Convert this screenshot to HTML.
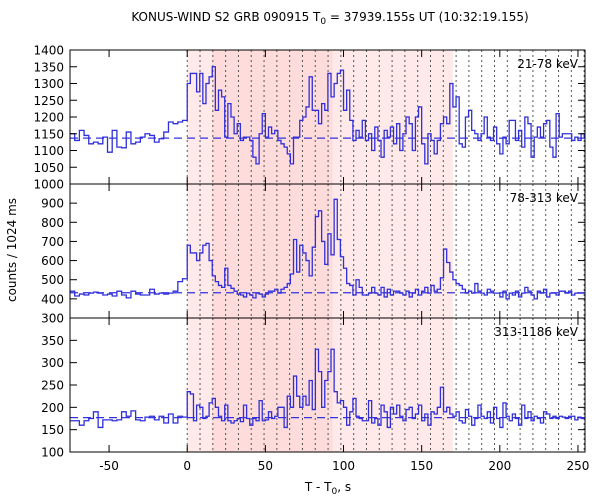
<!DOCTYPE html>
<html><head><meta charset="utf-8">
<style>
html,body{margin:0;padding:0;background:#fff;}
svg{display:block;font-family:"DejaVu Sans","Liberation Sans",sans-serif;}
</style></head>
<body>
<svg id="chart" width="600" height="500" viewBox="0 0 600 500" xmlns="http://www.w3.org/2000/svg">
<text x="330" y="21" font-size="12" text-anchor="middle">KONUS-WIND S2 GRB 090915 T<tspan font-size="9" dy="3">0</tspan><tspan dy="-3"> = 37939.155s UT (10:32:19.155)</tspan></text>
<text x="0" y="0" font-size="12" text-anchor="middle" transform="translate(16,250) rotate(-90)">counts / 1024 ms</text>
<text x="328" y="491" font-size="12" text-anchor="middle">T - T<tspan font-size="9" dy="3">0</tspan><tspan dy="-3">, s</tspan></text>
<g id="plots"></g>
</svg>
<script>
// data
const xTicks = [-50, 0, 50, 100, 150, 200, 250];
const preStart = -75, preWidth = 3, postWidth = 2;
const shadeLight = [0, 170];
const shadeDark = [16, 93];
const dotStep = 8.192;
const bandLabels = ["21-78 keV", "78-313 keV", "313-1186 keV"];
const backgrounds = [1137, 432, 177];
const yTicks1 = [1000,1050,1100,1150,1200,1250,1300,1350,1400];
const yTicks2 = [300,400,500,600,700,800,900];
const yTicks3 = [100,150,200,250,300,350];
const pre1 = [1150,1130,1160,1145,1120,1125,1120,1140,1095,1160,1110,1108,1155,1120,1125,1140,1150,1145,1125,1135,1155,1185,1180,1185,1190];
const post1 = [1300,1330,1330,1275,1330,1240,1300,1320,1350,1220,1280,1260,1140,1240,1200,1150,1180,1130,1140,1140,1130,1080,1060,1150,1210,1140,1170,1150,1160,1130,1120,1110,1090,1060,1140,1140,1190,1200,1230,1320,1220,1220,1180,1240,1220,1330,
1260,1300,1330,1340,1220,1280,1190,1130,1160,1140,1190,1130,1150,1100,1170,1130,1080,1160,1140,1170,1120,1180,1100,1150,1200,1180,1100,1200,1230,1120,
1060,1150,1130,1090,1130,1180,1200,1180,1300,1230,1260,1120,1110,1200,1220,1160,1150,1130,1150,1200,1140,1130,1170,1120,1090,1140,1120,1190,
1190,1130,1160,1110,1200,1180,1080,1140,1170,1140,1180,1190,1110,1080,1210,1140,1150,1150,1150,1130,1140,1130,1150,1140];
const pre2 = [440,415,425,420,430,435,430,420,425,415,440,420,405,440,425,420,420,450,425,430,425,430,440,490,505];
const post2 = [680,640,640,600,640,680,690,600,520,490,470,460,560,
470,455,440,425,420,410,430,420,405,430,425,410,
425,440,440,450,430,450,460,480,
530,710,540,680,640,600,520,670,830,860,700,580,740,630,920,710,620,
560,480,470,420,500,460,420,420,430,460,
430,420,460,410,450,420,440,440,430,420,440,410,430,450,420,440,460,430,470,440,
450,510,660,590,540,500,480,470,450,430,
440,430,480,440,430,420,450,440,430,430,410,440,400,430,420,440,410,430,460,440,420,400,440,430,450,410,430,430,420,440,440,430,440,420,430,430,430];
const pre3 = [170,170,160,170,175,190,155,172,172,170,172,190,180,192,172,170,178,180,172,180,165,185,165,180,178];
const post3 = [235,230,170,205,200,175,180,210,220,200,180,170,
205,170,165,170,175,168,205,175,160,175,170,215,170,172,190,175,180,200,200,155,
225,200,270,225,200,225,205,260,195,330,280,200,260,280,330,235,210,215,
200,160,190,220,180,175,170,170,215,165,
175,160,205,190,155,200,185,205,180,170,195,200,175,185,205,170,185,160,190,185,
200,245,190,200,185,
180,190,170,165,195,180,160,175,205,180,175,190,165,200,175,155,210,180,170,185,175,160,205,175,190,170,180,175,165,190,185,175,180,175,180,178,175,180,180,172,178,175];

const NS = "http://www.w3.org/2000/svg";
const L = 70, R = 585, T0 = 50, PH = 134;
const xMin = -75, xMax = 254.5;
function xs(t){ return L + (t - xMin) / (xMax - xMin) * (R - L); }
function mk(tag, attrs, parent){ const e = document.createElementNS(NS, tag); for (const k in attrs) e.setAttribute(k, attrs[k]); parent.appendChild(e); return e; }
const root = document.getElementById('plots');
const panels = [
  {pre: pre1, post: post1, min: 1000, max: 1400, ticks: yTicks1, minor: 0},
  {pre: pre2, post: post2, min: 300, max: 1000, ticks: yTicks2, minor: 0},
  {pre: pre3, post: post3, min: 100, max: 400, ticks: yTicks3, minor: 0}
];
const clip = mk('clipPath', {id: 'pc'}, mk('defs', {}, root));
mk('rect', {x: L, y: T0, width: R - L, height: PH * 3}, clip);

panels.forEach((p, i) => {
  const top = T0 + i * PH, bot = top + PH;
  const ys = v => bot - (v - p.min) / (p.max - p.min) * PH;
  const g = mk('g', {}, root);
  
  
  const sl = mk('rect', {x: xs(shadeLight[0]), y: top, width: xs(shadeLight[1]) - xs(shadeLight[0]), height: PH, fill: '#ffe9e9'}, g);
  
  
  const sd = mk('rect', {x: xs(shadeDark[0]), y: top, width: xs(shadeDark[1]) - xs(shadeDark[0]), height: PH, fill: '#ffdcdc'}, g);
  
  
  for (let t = 0; xs(t) < R; t += dotStep) {
    const dl = mk('line', {x1: xs(t), x2: xs(t), y1: top, y2: bot, stroke: '#555', 'stroke-width': 1, 'stroke-dasharray': '2,3'}, g);
    
    
  }
  const bg = mk('line', {x1: L, x2: R, y1: ys(backgrounds[i]), y2: ys(backgrounds[i]), stroke: '#3333dd', 'stroke-width': 1.2, 'stroke-dasharray': '8,5'}, g);
  
  
  // step path
  let d = '', first = true;
  const pts = [];
  p.pre.forEach((v, k) => pts.push([preStart + k * preWidth, preStart + (k + 1) * preWidth, v]));
  p.post.forEach((v, k) => pts.push([k * postWidth, (k + 1) * postWidth, v]));
  pts.forEach(([a, b, v]) => {
    if (first) { d += 'M' + xs(a) + ',' + ys(v); first = false; }
    else d += 'L' + xs(a) + ',' + ys(v);
    d += 'L' + xs(b) + ',' + ys(v);
  });
  const line = mk('path', {d: d, fill: 'none', stroke: '#2f2fdc', 'stroke-width': 1.3, 'clip-path': 'url(#pc)'}, g);
  
  
  // frame
  const fr = mk('rect', {x: L, y: top, width: R - L, height: PH, fill: 'none', stroke: '#000', 'stroke-width': 1}, g);
  
  
  // y ticks
  p.ticks.forEach(v => {
    const y = ys(v);
    mk('line', {x1: L, x2: L + 7, y1: y, y2: y, stroke: '#000'}, g);
    mk('line', {x1: R, x2: R - 7, y1: y, y2: y, stroke: '#000'}, g);
    const tl = mk('text', {x: L - 6, y: y + 4.5, 'font-size': 12, 'text-anchor': 'end'}, g);
    
    
    tl.textContent = v;
  });
  // x ticks
  xTicks.forEach(t => {
    const x = xs(t);
    mk('line', {x1: x, x2: x, y1: bot, y2: bot - 7, stroke: '#000'}, g);
    mk('line', {x1: x, x2: x, y1: top, y2: top + 7, stroke: '#000'}, g);
  });
  const bl = mk('text', {x: 578, y: top + 18, 'font-size': 12, 'text-anchor': 'end'}, g);
  
  
  bl.textContent = bandLabels[i];
});
xTicks.forEach(t => {
  const xl = mk('text', {x: xs(t), y: 470, 'font-size': 12, 'text-anchor': 'middle'}, root);
  
  
  xl.textContent = t;
});
</script>
</body></html>
